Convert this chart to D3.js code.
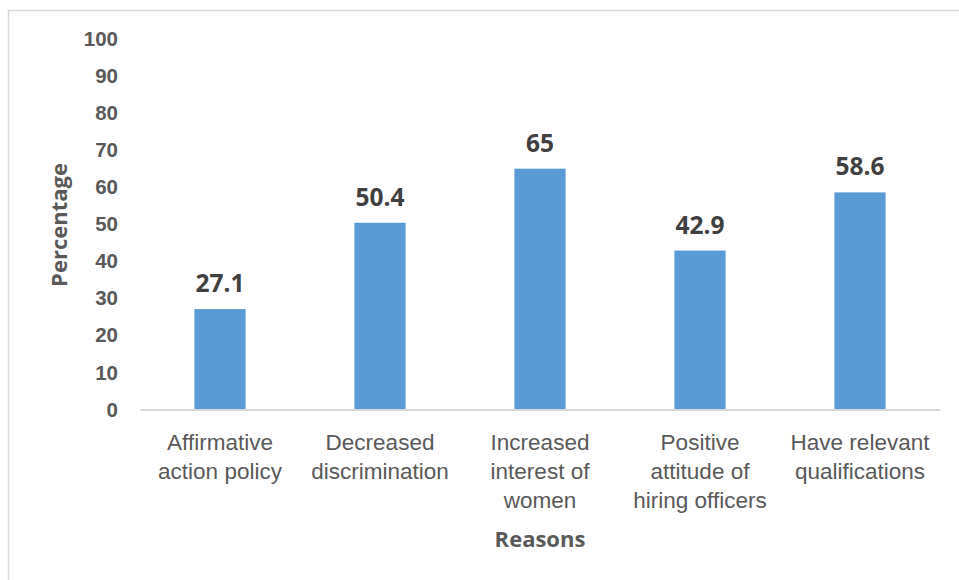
<!DOCTYPE html>
<html>
<head>
<meta charset="utf-8">
<script src="https://cdn.jsdelivr.net/npm/d3@7/dist/d3.min.js"></script>
<style>
  html, body { margin: 0; padding: 0; background: #fff; }
  svg { display: block; font-family: "Open Sans", "Liberation Sans", sans-serif; }
</style>
</head>
<body>
<svg id="chart" width="959" height="580"></svg>
<script>
// Reasons and their percentages
const categories = [
  ["Affirmative", "action policy"],
  ["Decreased", "discrimination"],
  ["Increased", "interest of", "women"],
  ["Positive", "attitude of", "hiring officers"],
  ["Have relevant", "qualifications"]
];
const values = [27.1, 50.4, 65, 42.9, 58.6];
const yTicks = [0, 10, 20, 30, 40, 50, 60, 70, 80, 90, 100];

const svg = d3.select("#chart");

// outer chart frame
svg.append("rect")
  .attr("x", 8.5).attr("y", 10.5)
  .attr("width", 960).attr("height", 580)
  .attr("fill", "none").attr("stroke", "#d9d9d9").attr("stroke-width", 1.5);

const plot = { left: 140, right: 940, top: 39, bottom: 409.5 };

const x = d3.scaleBand()
  .domain(d3.range(values.length))
  .range([plot.left, plot.right])
  .paddingInner(0.68)
  .paddingOuter(0.34);

const y = d3.scaleLinear().domain([0, 100]).range([plot.bottom, plot.top]);

// y axis: labels only
const yAxis = svg.append("g")
  .attr("transform", `translate(${plot.left},0)`)
  .call(d3.axisLeft(y).tickValues(yTicks).tickSize(0).tickPadding(22));
yAxis.select(".domain").remove();
yAxis.selectAll("text")
  .attr("fill", "#595959")
  .attr("font-size", 20.5)
  .attr("font-weight", "bold");

// bars
svg.append("g").selectAll("rect")
  .data(values)
  .join("rect")
  .attr("x", (d, i) => x(i))
  .attr("y", d => y(d))
  .attr("width", x.bandwidth())
  .attr("height", d => y(0) - y(d))
  .attr("fill", "#5b9bd5");

// category axis
const xAxis = svg.append("g")
  .attr("transform", `translate(0,${plot.bottom})`)
  .call(d3.axisBottom(x).tickSize(0).tickFormat(""));
xAxis.select(".domain").attr("stroke", "#d9d9d9").attr("stroke-width", 2);

xAxis.selectAll(".tick").each(function (i) {
  const t = d3.select(this).append("text")
    .attr("fill", "#595959")
    .attr("font-size", 22.5)
    .attr("text-anchor", "middle");
  categories[i].forEach((line, k) => {
    t.append("tspan")
      .attr("x", 0)
      .attr("y", 40 + k * 29)
      .text(line);
  });
});

// value labels
svg.append("g").selectAll("text")
  .data(values)
  .join("text")
  .attr("x", (d, i) => x(i) + x.bandwidth() / 2)
  .attr("y", d => y(d) - 17)
  .attr("text-anchor", "middle")
  .attr("fill", "#404040")
  .attr("font-size", 24.5)
  .attr("font-weight", "bold")
  .text(d => d);

// axis titles
svg.append("text")
  .attr("transform", `translate(67,225) rotate(-90)`)
  .attr("text-anchor", "middle")
  .attr("fill", "#595959")
  .attr("font-size", 22)
  .attr("font-weight", "bold")
  .text("Percentage");

svg.append("text")
  .attr("x", 540).attr("y", 547)
  .attr("text-anchor", "middle")
  .attr("fill", "#595959")
  .attr("font-size", 22)
  .attr("font-weight", "bold")
  .text("Reasons");
</script>
</body>
</html>
